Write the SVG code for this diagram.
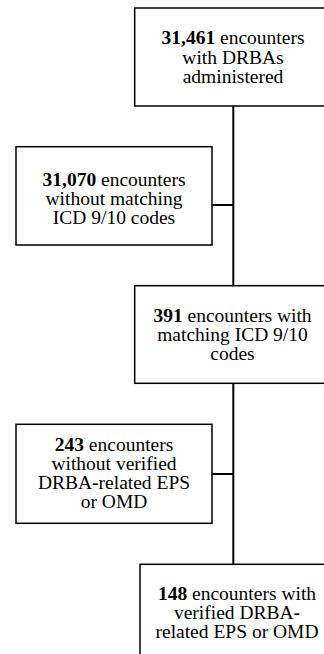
<svg xmlns="http://www.w3.org/2000/svg" width="324" height="654" viewBox="0 0 324 654">
<style>
.box{fill:#fff;stroke:#000;stroke-width:1.5}
.ln{fill:none;stroke:#000;stroke-width:2}
.t{font-size:19.5px;fill:#000;text-anchor:middle}
.b{font-weight:bold}
</style>
<rect width="324" height="654" fill="#fff"/>
<g id="connectors">
<line class="ln" x1="233.3" y1="106" x2="233.3" y2="286"/>
<line class="ln" x1="212" y1="205" x2="233.3" y2="205"/>
<line class="ln" x1="233.3" y1="383" x2="233.3" y2="565"/>
<line class="ln" x1="212" y1="474" x2="233.3" y2="474"/>
</g>
<g font-family="Liberation Serif, Times New Roman, Times, serif">
<g id="n1">
<rect class="box" x="134.7" y="8" width="198" height="98"/>
<text class="t" x="233" y="44"><tspan class="b">31,461</tspan> encounters</text>
<text class="t" x="233" y="63.5">with DRBAs</text>
<text class="t" x="233" y="83">administered</text>
</g>
<g id="n2">
<rect class="box" x="16" y="146.7" width="196" height="98.3"/>
<text class="t" x="114" y="186"><tspan class="b">31,070</tspan> encounters</text>
<text class="t" x="114" y="205">without matching</text>
<text class="t" x="114" y="224">ICD 9/10 codes</text>
</g>
<g id="n3">
<rect class="box" x="134.7" y="285.7" width="198" height="97.6"/>
<text class="t" x="232.5" y="322"><tspan class="b">391</tspan> encounters with</text>
<text class="t" x="232.5" y="341">matching ICD 9/10</text>
<text class="t" x="232.5" y="360">codes</text>
</g>
<g id="n4">
<rect class="box" x="16" y="424.3" width="196" height="99"/>
<text class="t" x="114" y="451"><tspan class="b">243</tspan> encounters</text>
<text class="t" x="114" y="470">without verified</text>
<text class="t" x="114" y="489">DRBA<tspan class="b">-</tspan>related EPS</text>
<text class="t" x="114" y="508">or OMD</text>
</g>
<g id="n5">
<rect class="box" x="140" y="564.3" width="194" height="100"/>
<text class="t" x="237" y="600"><tspan class="b">148</tspan> encounters with</text>
<text class="t" x="237" y="619">verified DRBA<tspan class="b">-</tspan></text>
<text class="t" x="237" y="638">related EPS or OMD</text>
</g>
</g>
</svg>
